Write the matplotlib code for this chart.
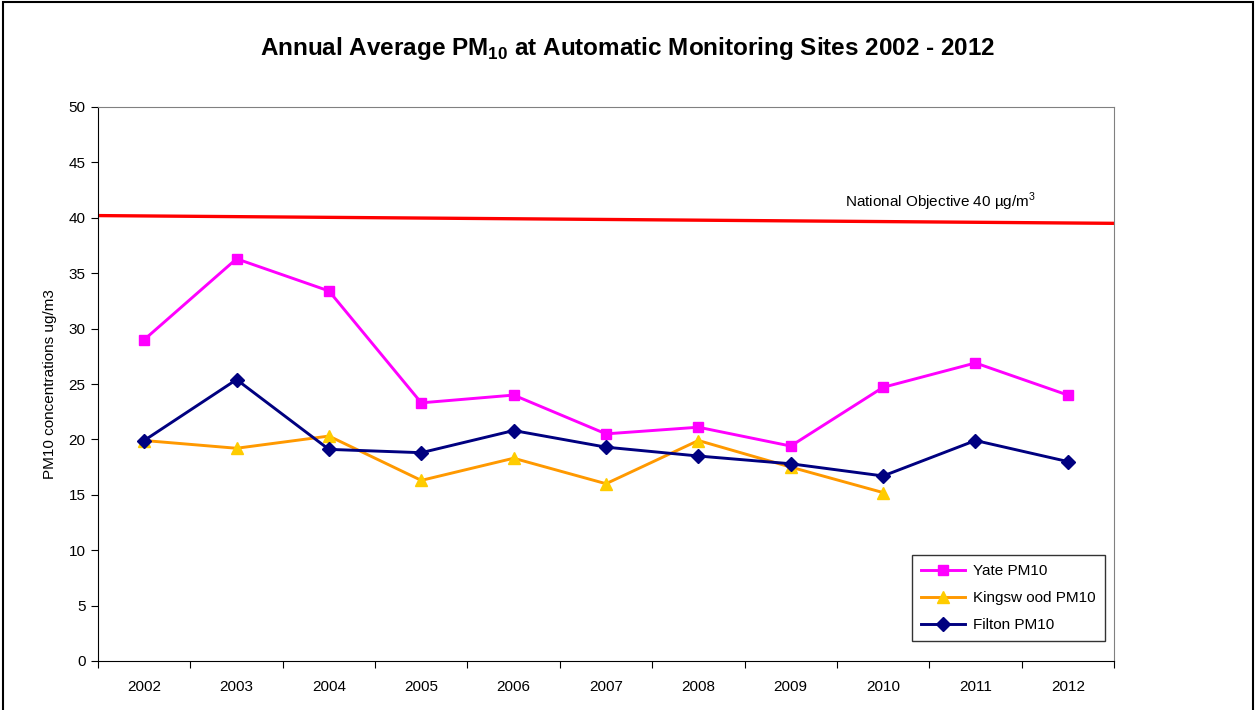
import numpy as np
import matplotlib.pyplot as plt
from matplotlib.patches import Rectangle

plt.rcParams['font.family'] = ['Liberation Sans', 'DejaVu Sans']
plt.rcParams['mathtext.fontset'] = 'custom'
plt.rcParams['mathtext.rm'] = 'Liberation Sans'
plt.rcParams['mathtext.bf'] = 'Liberation Sans:bold'

# Data
years = ['2002', '2003', '2004', '2005', '2006', '2007', '2008', '2009', '2010', '2011', '2012']
yate = [29.0, 36.3, 33.4, 23.3, 24.0, 20.5, 21.1, 19.4, 24.7, 26.9, 24.0]
kingswood = [19.9, 19.2, 20.3, 16.3, 18.3, 16.0, 19.9, 17.5, 15.2]
filton = [19.9, 25.4, 19.1, 18.8, 20.8, 19.3, 18.5, 17.8, 16.7, 19.9, 18.0]
objective_ends = [40.2, 39.5]

fig = plt.figure(figsize=(12.56, 7.10), dpi=100)
ax = fig.add_axes([98/1256, 1-661/710, (1114-98)/1256, (661-107)/710])

x = np.arange(len(years))

# objective line spans the full plot area
ax.plot([-0.5, len(years) - 0.5], objective_ends, color='#FF0000', lw=2.4, zorder=2)

ax.plot(x, yate, color='#FF00FF', lw=2.1, marker='s', ms=7,
        mfc='#FF00FF', mec='#FF00FF', label='Yate PM10', zorder=3)
ax.plot(x[:len(kingswood)], kingswood, color='#FF9900', lw=2.1, marker='^', ms=8.5,
        mfc='#FFCC00', mec='#FFCC00', label='Kingsw ood PM10', zorder=3)
ax.plot(x, filton, color='#000080', lw=2.1, marker='D', ms=7,
        mfc='#000080', mec='#000080', label='Filton PM10', zorder=4)

ax.set_xlim(-0.5, len(years) - 0.5)
ax.set_ylim(0, 50)
ax.set_yticks(np.arange(0, 51, 5))
ax.set_xticks(np.arange(-0.5, len(years), 1.0))
ax.set_xticklabels([])
ax.set_xticks(x, minor=True)
ax.set_xticklabels(years, minor=True)
ax.tick_params(axis='x', which='minor', length=0, pad=14, labelsize=11)
ax.tick_params(axis='x', which='major', length=5, direction='out')
ax.tick_params(axis='y', length=5, direction='out', labelsize=11, pad=4)

for side in ['top', 'right']:
    ax.spines[side].set_color('#808080')
for side in ['left', 'bottom']:
    ax.spines[side].set_color('black')

ax.set_ylabel('PM10 concentrations ug/m3', fontsize=11, labelpad=8)

ax.text(0.735, 0.829, 'National Objective 40 µg/m$^3$', transform=ax.transAxes,
        fontsize=11, ha='left', va='center')

fig.text(0.5, 1-48/710, 'Annual Average PM$_{\\mathbf{10}}$ at Automatic Monitoring Sites 2002 - 2012',
         ha='center', va='center', fontsize=17.5, fontweight='bold')

leg = ax.legend(loc='lower right', bbox_to_anchor=(0.991, 0.036), borderaxespad=0,
                fontsize=11, frameon=True, fancybox=False, edgecolor='black',
                handlelength=2.9, handletextpad=0.5, borderpad=0.6, labelspacing=0.85)
leg.get_frame().set_linewidth(1.0)

# outer frame around the whole chart
fig.patches.append(Rectangle((0.002, -0.01), 0.996, 1.007, transform=fig.transFigure,
                             fill=False, edgecolor='black', lw=1.5))

fig.savefig('out.png', dpi=100)
